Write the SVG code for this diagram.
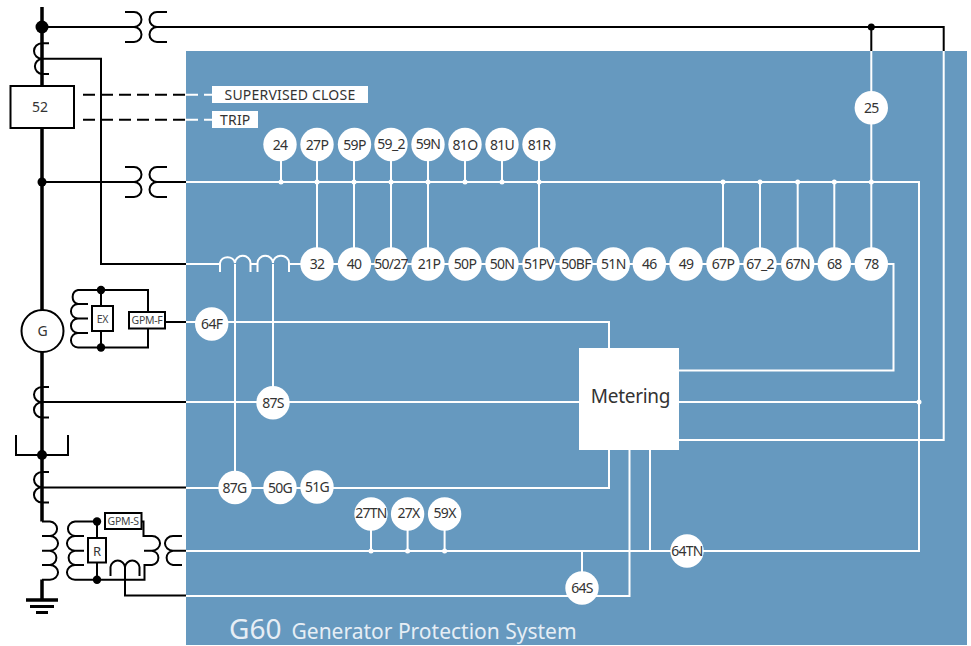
<svg xmlns="http://www.w3.org/2000/svg" width="971" height="646" viewBox="0 0 971 646">
<style>
text{font-family:"Noto Sans","Liberation Sans",sans-serif;fill:#333;text-anchor:middle}
.f{font-size:14px;letter-spacing:-.7px}
.s{font-size:10.5px;letter-spacing:-.3px;fill:#444}
.k{fill:none;stroke:#000;stroke-width:2}
.b{fill:none;stroke:#000;stroke-width:3.5}
.w{fill:none;stroke:#fff;stroke-width:2}
.c{fill:#fff}
.box{fill:#fff;stroke:#000;stroke-width:2}
.l{text-anchor:start;font-size:14px;letter-spacing:.2px}
.t{fill:#e6eef5;text-anchor:start}
</style>
<rect id="panel" x="186" y="51" width="781" height="594" fill="#6699bf"/>
<g id="connectors">
<path class="b" d="M42 7V521.5M42 579.5V600"/>
<path class="k" d="M42 27H134M157 27H943.700V51M871.300 27V51"/>
<path class="k" d="M42 58.700H101V264H186M42 182H134M157 182H186M42 402H186M42 487.500H186M165 322H186"/>
<path class="k" d="M125 12H134A7.500 7.500 0 0 1 134 27A7.500 7.500 0 0 1 134 42H125M167 12H157A7.500 7.500 0 0 0 157 27A7.500 7.500 0 0 0 157 42H167"/>
<path class="k" d="M125 167H134A7.500 7.500 0 0 1 134 182A7.500 7.500 0 0 1 134 197H125M167 167H157A7.500 7.500 0 0 0 157 182A7.500 7.500 0 0 0 157 197H167"/>
<path class="k" d="M49 43.300H42A8 7.700 0 0 0 42 58.700A8 7.700 0 0 0 42 74H49"/>
<path class="k" d="M49 387H42A8 7.600 0 0 0 42 402.200A8 7.600 0 0 0 42 417.500H49"/>
<path class="k" d="M49 472H42A8 7.600 0 0 0 42 487.200A8 7.600 0 0 0 42 502.500H49"/>
<path class="k" d="M16 435V455H68V435"/>
<path class="k" stroke-dasharray="12 6" d="M83 94.700H186M83 119.700H186"/>
<path class="w" stroke-dasharray="12 6" d="M186 94.700H212M186 119.700H212"/>
<path class="k" d="M88 290H78A7 7.200 0 0 0 78 304H88M78 304A7 7.200 0 0 0 78 318.500H88M78 318.500A7 7.200 0 0 0 78 333H88M78 333A7 7.200 0 0 0 78 347.500H148V290H78M101 290V347.500"/>
<path class="k" d="M42 521.500H50A8 7.300 0 0 1 50 536H42M50 536A8 7.300 0 0 1 50 550.700H42M50 550.700A8 7.300 0 0 1 50 565H42M50 565A8 7.300 0 0 1 50 579.700H42"/>
<path class="k" d="M97 521.500H75A8 7.300 0 0 0 75 536H84M75 536A8 7.300 0 0 0 75 550.700H84M75 550.700A8 7.300 0 0 0 75 565H84M75 565A8 7.300 0 0 0 75 579.700H144.500V565H152A8 7.300 0 0 0 152 550.700H144M152 550.700A8 7.300 0 0 0 152 536H143.500V521.500H105M97 521.500V579.700"/>
<path class="k" d="M182 536H173A8 7.300 0 0 0 173 550.700H186M173 550.700A8 7.300 0 0 0 173 565H182"/>
<path class="k" d="M110.500 576V567A7.300 7.300 0 0 1 125 567A7.300 7.300 0 0 1 139.500 567V576M125 567V595.500H186"/>
<path class="b" d="M26 600H58"/><path class="k" d="M30 606.500H54M36 612.500H48" style="stroke-width:3"/>
<path class="w" d="M871.300 51V264M186 182H919V551H186M186 264H220M186 402H919M186 322H609V348M186 488H609V450M186 596H629.500V450M650 450V551M943.700 51V440H679M871.300 264H893.500V370.500H679"/>
<path class="w" d="M281 144V182M317 144V264M354 144V264M391 144V264M428 144V264M465 144V182M502 144V182M539 144V264M723 182V264M760 182V264M797.700 182V264M834.300 182V264M371 514V551M407.600 514V551M444.600 514V551M582 551V588"/>
<path class="w" d="M220 272V263A7.600 7 0 0 1 235 263A7.600 7 0 0 1 250.500 263V272M257.500 272V263A7.600 7 0 0 1 273 263A7.600 7 0 0 1 289 263V272M250.500 264H257.500M289 264H871.300M235 264V488M273 264V402"/>
<g fill="#fff"><circle cx="281" cy="182" r="2.500"/><circle cx="317" cy="182" r="2.500"/><circle cx="354" cy="182" r="2.500"/><circle cx="391" cy="182" r="2.500"/><circle cx="428" cy="182" r="2.500"/><circle cx="465" cy="182" r="2.500"/><circle cx="502" cy="182" r="2.500"/><circle cx="539" cy="182" r="2.500"/><circle cx="723" cy="182" r="2.500"/><circle cx="760" cy="182" r="2.500"/><circle cx="797.700" cy="182" r="2.500"/><circle cx="834.300" cy="182" r="2.500"/><circle cx="871.300" cy="182" r="2.500"/><circle cx="919" cy="402" r="2.500"/><circle cx="371" cy="551" r="2.500"/><circle cx="407.600" cy="551" r="2.500"/><circle cx="444.600" cy="551" r="2.500"/></g>
<g><circle cx="42" cy="27" r="6.500"/><circle cx="871.300" cy="27" r="3.500"/><circle cx="42" cy="182" r="4.500"/><circle cx="42" cy="455" r="5"/><circle cx="101" cy="290" r="4.200"/><circle cx="101" cy="347.500" r="4.200"/><circle cx="97" cy="521.500" r="4.200"/><circle cx="97" cy="579.700" r="4.200"/></g>
</g>
<g id="n52"><rect class="box" x="10.500" y="86" width="63.500" height="42"/><text x="40" y="112" font-size="14">52</text></g>
<g id="G"><circle cx="42.500" cy="331" r="21" fill="#fff" stroke="#000" stroke-width="2"/><text x="42.500" y="336" font-size="14">G</text></g>
<g id="EX"><rect class="box" x="92" y="306" width="21" height="25"/><text class="s" x="102.500" y="323">EX</text></g>
<g id="GPM-F"><rect class="box" x="129" y="312" width="36" height="16.500"/><text class="s" x="147" y="324">GPM-F</text></g>
<g id="GPM-S"><rect class="box" x="105" y="513" width="36.500" height="16"/><text class="s" x="123.200" y="525">GPM-S</text></g>
<g id="R"><rect class="box" x="88" y="538" width="18" height="24.500"/><text x="97" y="555.500" font-size="13">R</text></g>
<g id="supervised"><rect class="c" x="212" y="86" width="156" height="17"/><text class="l" x="224.500" y="99.500">SUPERVISED CLOSE</text></g>
<g id="trip"><rect class="c" x="212" y="111" width="46" height="17"/><text class="l" x="220" y="124.500">TRIP</text></g>
<g id="metering"><rect class="c" x="579" y="348" width="100" height="102"/><text x="630.500" y="403" font-size="19" style="letter-spacing:-.3px">Metering</text></g>
<g id="n24"><circle class="c" cx="280" cy="144.500" r="16.700"/><text class="f" x="280" y="149.500">24</text></g>
<g id="n27P"><circle class="c" cx="317" cy="144.500" r="16.700"/><text class="f" x="317" y="149.500">27P</text></g>
<g id="n59P"><circle class="c" cx="354.500" cy="144.500" r="16.700"/><text class="f" x="354.500" y="149.500">59P</text></g>
<g id="n59_2"><circle class="c" cx="391" cy="144.500" r="16.700"/><text class="f" x="391" y="148.500">59_2</text></g>
<g id="n59N"><circle class="c" cx="428" cy="144.500" r="16.700"/><text class="f" x="428" y="148.500">59N</text></g>
<g id="n81O"><circle class="c" cx="465" cy="144.500" r="16.700"/><text class="f" x="465" y="149.500">81O</text></g>
<g id="n81U"><circle class="c" cx="502" cy="144.500" r="16.700"/><text class="f" x="502" y="149.500">81U</text></g>
<g id="n81R"><circle class="c" cx="539" cy="144.500" r="16.700"/><text class="f" x="539" y="149.500">81R</text></g>
<g id="n25"><circle class="c" cx="871.300" cy="107.700" r="16.700"/><text class="f" x="871.300" y="112.700">25</text></g>
<g id="n32"><circle class="c" cx="317" cy="264" r="16.700"/><text class="f" x="317" y="269">32</text></g>
<g id="n40"><circle class="c" cx="354.500" cy="264" r="16.700"/><text class="f" x="354" y="269">40</text></g>
<g id="n50_27"><circle class="c" cx="391" cy="264" r="16.700"/><text class="f" x="391" y="269">50/27</text></g>
<g id="n21P"><circle class="c" cx="428" cy="264" r="16.700"/><text class="f" x="429" y="269">21P</text></g>
<g id="n50P"><circle class="c" cx="465" cy="264" r="16.700"/><text class="f" x="465" y="269">50P</text></g>
<g id="n50N"><circle class="c" cx="502" cy="264" r="16.700"/><text class="f" x="502" y="269">50N</text></g>
<g id="n51PV"><circle class="c" cx="539" cy="264" r="16.700"/><text class="f" x="539" y="269">51PV</text></g>
<g id="n50BF"><circle class="c" cx="576" cy="264" r="16.700"/><text class="f" x="576" y="269">50BF</text></g>
<g id="n51N"><circle class="c" cx="613.300" cy="264" r="16.700"/><text class="f" x="613.300" y="269">51N</text></g>
<g id="n46"><circle class="c" cx="649.300" cy="264" r="16.700"/><text class="f" x="649.300" y="269">46</text></g>
<g id="n49"><circle class="c" cx="686" cy="264" r="16.700"/><text class="f" x="686" y="269">49</text></g>
<g id="n67P"><circle class="c" cx="723" cy="264" r="16.700"/><text class="f" x="723" y="269">67P</text></g>
<g id="n67_2"><circle class="c" cx="760" cy="264" r="16.700"/><text class="f" x="760" y="269">67_2</text></g>
<g id="n67N"><circle class="c" cx="797.700" cy="264" r="16.700"/><text class="f" x="797.700" y="269">67N</text></g>
<g id="n68"><circle class="c" cx="834.300" cy="264" r="16.700"/><text class="f" x="834.300" y="269">68</text></g>
<g id="n78"><circle class="c" cx="871.300" cy="264" r="16.700"/><text class="f" x="871.300" y="269">78</text></g>
<g id="n64F"><circle class="c" cx="211.700" cy="324" r="16.700"/><text class="f" x="211.700" y="329">64F</text></g>
<g id="n87S"><circle class="c" cx="273" cy="402.700" r="16.700"/><text class="f" x="273" y="407.700">87S</text></g>
<g id="n87G"><circle class="c" cx="235" cy="487.500" r="16.700"/><text class="f" x="234.500" y="492.500">87G</text></g>
<g id="n50G"><circle class="c" cx="280" cy="487.500" r="16.700"/><text class="f" x="280" y="492.500">50G</text></g>
<g id="n51G"><circle class="c" cx="317" cy="487" r="16.700"/><text class="f" x="317" y="492">51G</text></g>
<g id="n27TN"><circle class="c" cx="371" cy="514" r="16.700"/><text class="f" x="371" y="518">27TN</text></g>
<g id="n27X"><circle class="c" cx="407.600" cy="514" r="16.700"/><text class="f" x="408.500" y="518">27X</text></g>
<g id="n59X"><circle class="c" cx="444.600" cy="514" r="16.700"/><text class="f" x="444.600" y="518">59X</text></g>
<g id="n64TN"><circle class="c" cx="687" cy="551" r="16.700"/><text class="f" x="687" y="556">64TN</text></g>
<g id="n64S"><circle class="c" cx="582" cy="588" r="16.700"/><text class="f" x="582" y="593">64S</text></g>
<g id="title"><text class="t" x="229" y="639" font-size="28">G60</text><text class="t" x="291.500" y="639" font-size="21">Generator Protection System</text></g>
</svg>
